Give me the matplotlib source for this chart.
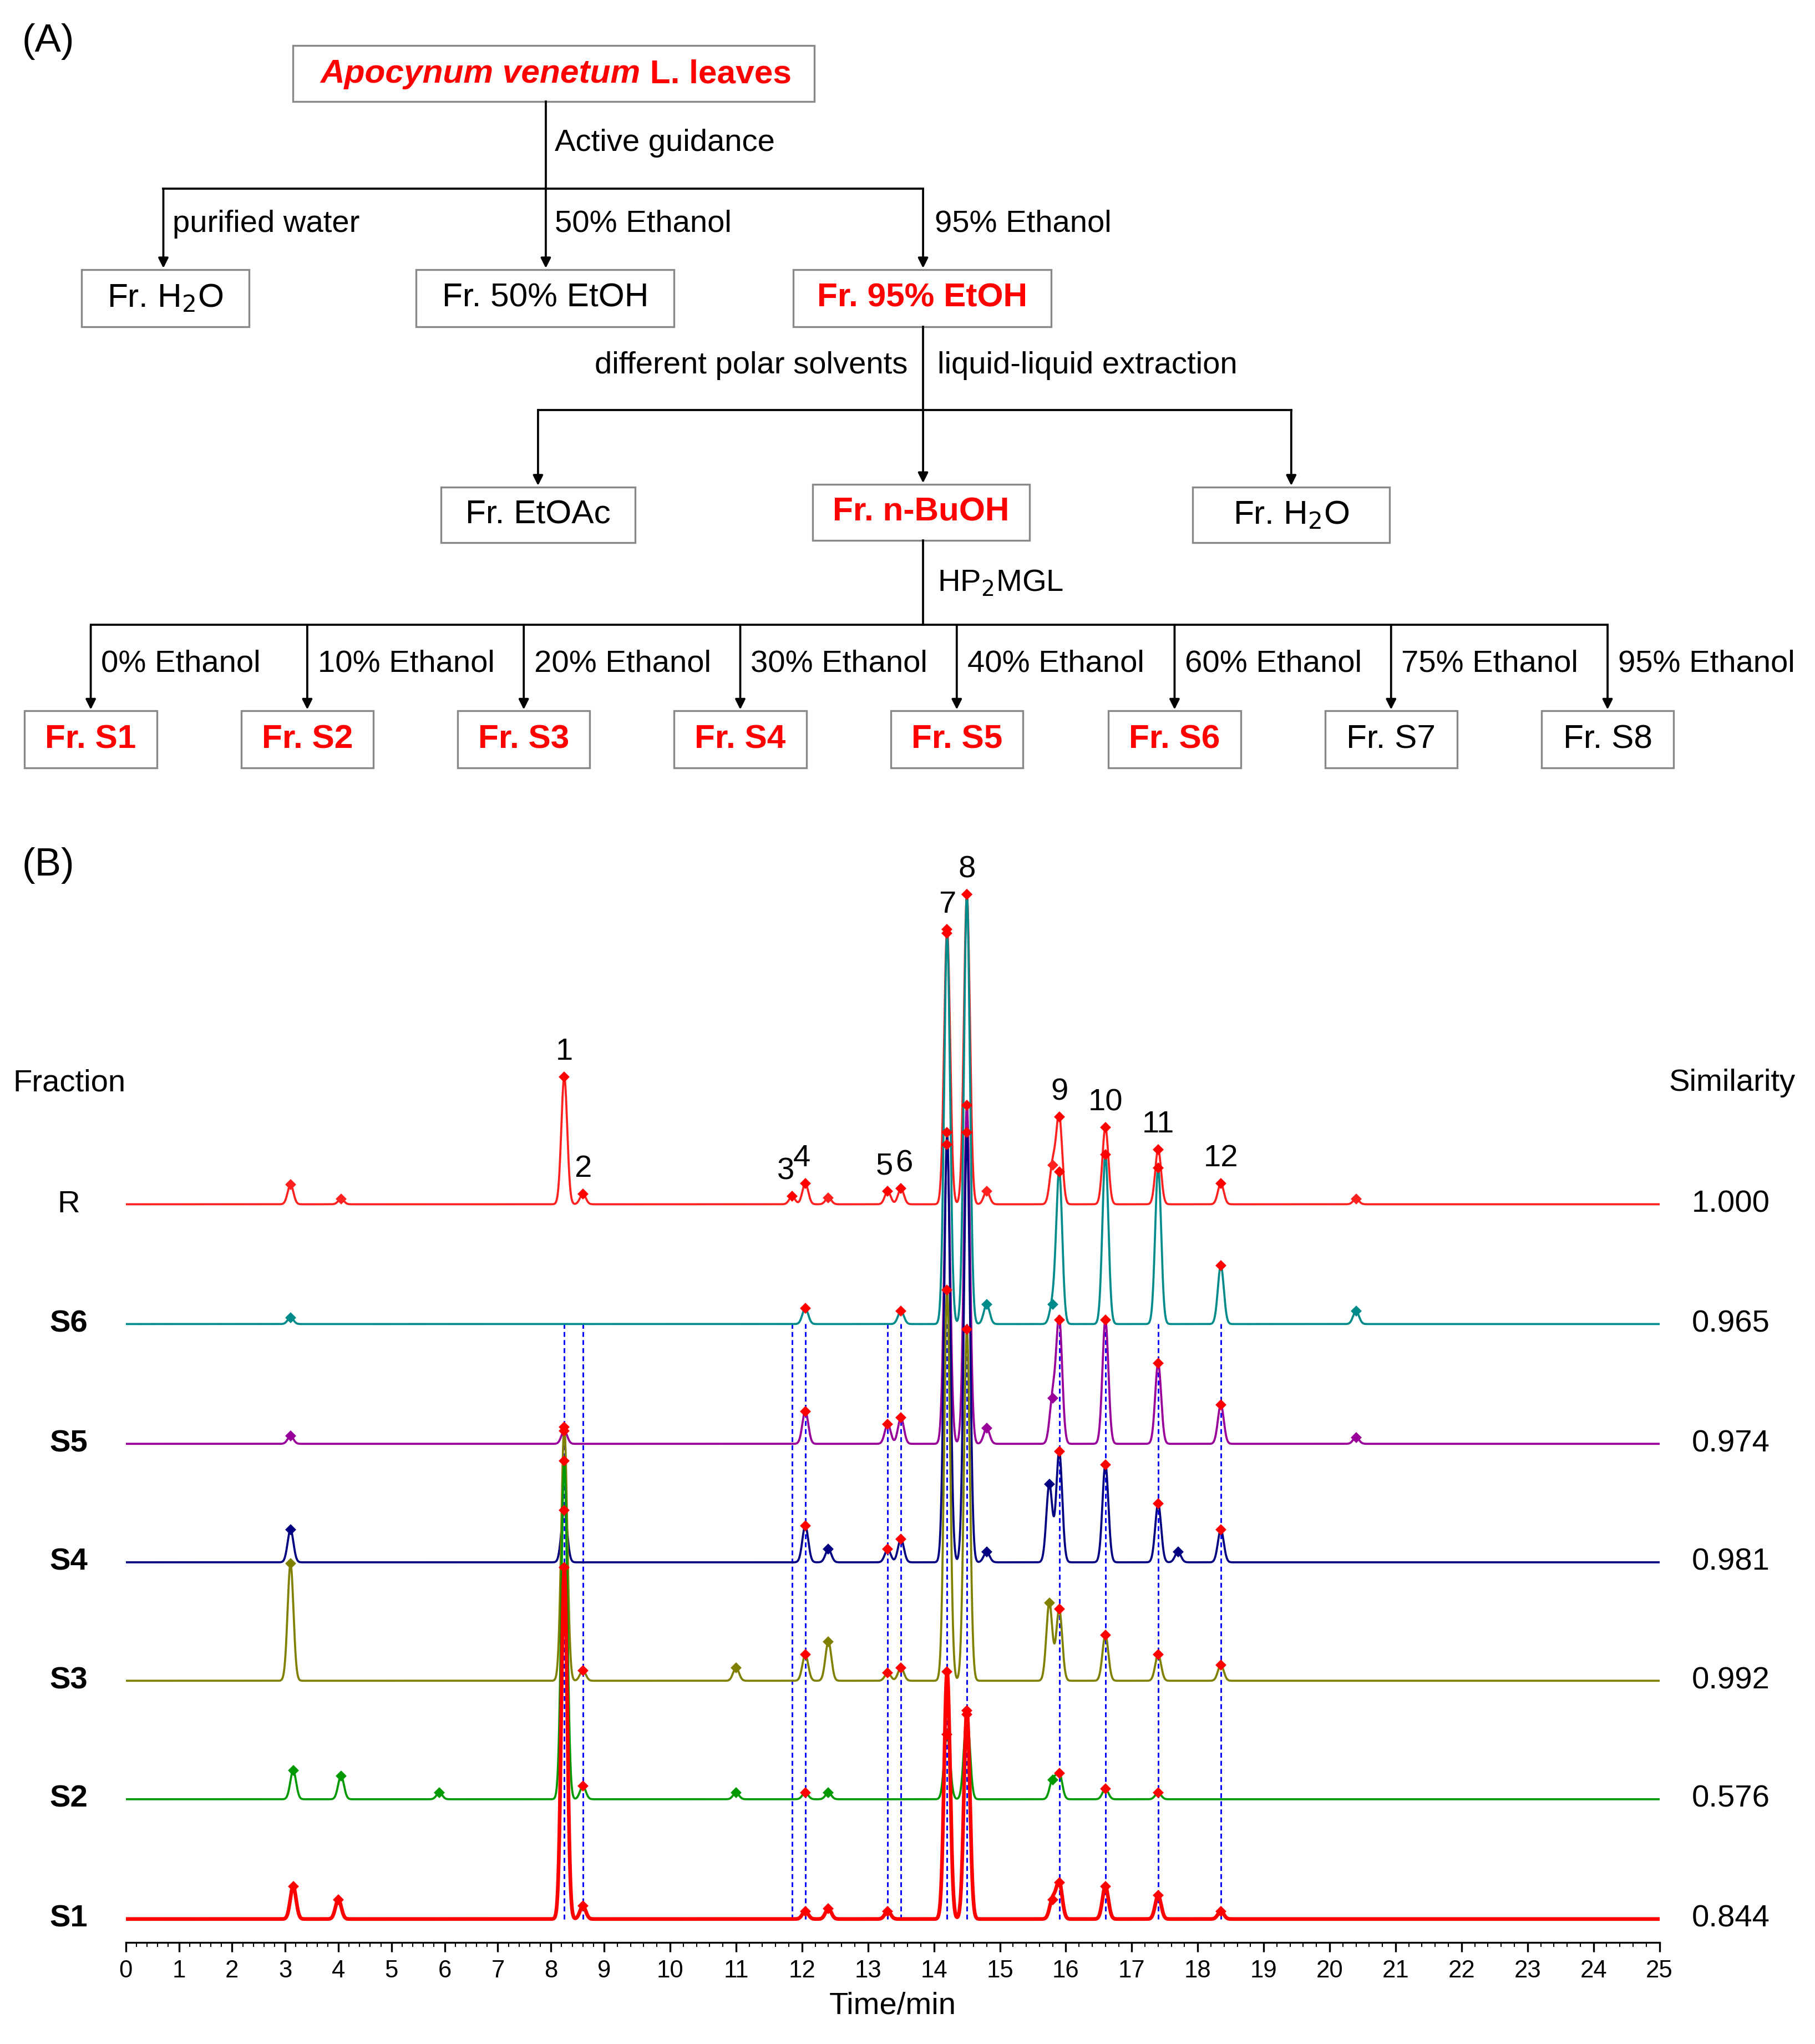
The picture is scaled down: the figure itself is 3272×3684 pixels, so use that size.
import numpy as np
import matplotlib
matplotlib.use("Agg")
import matplotlib.pyplot as plt
from matplotlib.patches import Rectangle

plt.rcParams['font.family'] = ['Arial', 'Liberation Sans', 'DejaVu Sans']

# ---------------- data ----------------
trace_names = ["R", "S6", "S5", "S4", "S3", "S2", "S1"]
similarity = ["1.000", "0.965", "0.974", "0.981", "0.992", "0.576", "0.844"]
trace_colors = ["#FF2020", "#008B8B", "#990099", "#000080", "#808000", "#009900", "#FF0000"]
baselines = [567, 475, 383, 292, 201, 110, 18]

peaks_R = [(3.1, 15), (4.05, 4), (8.25, 98), (8.6, 8), (11.85, 6), (12.05, 16), (12.4, 5),
           (13.3, 10), (13.5, 12), (14.2, 211), (14.5, 238), (14.8, 10), (15.8, 30), (15.9, 67),
           (16.6, 59), (17.4, 42), (18.35, 16), (20.4, 4)]
peaks_S6 = [(3.1, 5), (12.05, 12), (13.5, 10), (14.2, 300), (14.5, 330), (14.8, 15), (15.8, 15),
            (15.9, 117), (16.6, 130), (17.4, 120), (18.35, 45), (20.4, 10)]
peaks_S5 = [(3.1, 6), (8.25, 10), (12.05, 25), (13.3, 15), (13.5, 20), (14.2, 230), (14.5, 260),
            (14.8, 12), (15.8, 35), (15.9, 95), (16.6, 95), (17.4, 62), (18.35, 30), (20.4, 5)]
peaks_S4 = [(3.1, 25), (8.25, 40), (12.05, 28), (12.4, 10), (13.3, 10), (13.5, 18), (14.2, 330),
            (14.5, 330), (14.8, 8), (15.75, 60), (15.9, 85), (16.6, 75), (17.4, 45), (17.7, 8), (18.35, 25)]
peaks_S3 = [(3.1, 90), (8.25, 195), (8.6, 8), (11.0, 10), (12.05, 20), (12.4, 30), (13.3, 6), (13.5, 10),
            (14.2, 300), (14.5, 270), (15.75, 60), (15.9, 55), (16.6, 35), (17.4, 20), (18.35, 12)]
peaks_S2 = [(3.15, 22), (4.05, 18), (5.9, 5), (8.25, 260), (8.6, 10), (11.0, 5), (12.05, 5), (12.4, 5),
            (14.2, 50), (14.5, 65), (15.8, 15), (15.9, 20), (16.6, 8), (17.4, 5)]
peaks_S1 = [(3.15, 25), (4.0, 15), (8.25, 270), (8.6, 10), (12.05, 6), (12.4, 8), (13.3, 6),
            (14.2, 190), (14.5, 160), (15.8, 15), (15.9, 28), (16.6, 25), (17.4, 18), (18.35, 6)]
all_peaks = [peaks_R, peaks_S6, peaks_S5, peaks_S4, peaks_S3, peaks_S2, peaks_S1]

marked_times = [8.25, 8.6, 11.85, 12.05, 13.3, 13.5, 14.2, 14.5, 15.9, 16.6, 17.4, 18.35]
peak_labels = ["1", "2", "3", "4", "5", "6", "7", "8", "9", "10", "11", "12"]
label_offsets = [(0, 8), (0, 8), (-0.1, 8), (-0.05, 8), (-0.05, 8), (0.05, 8), (0, 8), (0, 8),
                 (0, 8), (0, 8), (0, 8), (0, 8)]

# ---------------- figure ----------------
W, H = 1400, 1570
fig = plt.figure(figsize=(3272 / 300, 3684 / 300), dpi=300)
FS = 13.5

BRK, S1_, S2_ = 9.0, 41.0, 50.875
def fwd(v):
    v = np.asarray(v, dtype=float)
    return np.where(v <= BRK, v * S1_, BRK * S1_ + (v - BRK) * S2_)
def inv(p):
    p = np.asarray(p, dtype=float)
    return np.where(p <= BRK * S1_, p / S1_, BRK + (p - BRK * S1_) / S2_)

x0, x1 = 97, 1280
ytop, ybot = 660, 1492
ax = fig.add_axes([x0 / W, 1 - ybot / H, (x1 - x0) / W, (ybot - ytop) / H])
ax.set_xscale("function", functions=(fwd, inv))
t = np.linspace(0, 25, 10000)
for name, col, base, pk in zip(trace_names, trace_colors, baselines, all_peaks):
    y = np.full_like(t, float(base))
    for t0, h in pk:
        sig = 0.055 if t0 < BRK else 0.045
        y += h * np.exp(-(t - t0) ** 2 / (2 * sig ** 2))
    lw = 1.6 if name == "S1" else 0.9
    ax.plot(t, y, color=col, lw=lw, zorder=3)
    for t0, h in pk:
        mc = "red" if t0 in marked_times else col
        ax.plot(t0, base + h, marker="D", ms=2.5, color=mc, zorder=4, clip_on=False)

for tm in marked_times:
    ax.plot([tm, tm], [baselines[-1], baselines[1]], ls=(0, (3, 2)), color="blue", lw=0.7, zorder=2)

for lab, tm, (dx, dy) in zip(peak_labels, marked_times, label_offsets):
    h = dict(peaks_R)[tm]
    ax.text(tm + dx, baselines[0] + h + dy, lab, ha="center", va="bottom", fontsize=FS)

ax.set_xlim(0, 25)
ax.set_ylim(0, ybot - ytop)
for s in ["top", "left", "right"]:
    ax.spines[s].set_visible(False)
ax.set_yticks([])
ax.set_xticks(range(0, 26))
ax.set_xticklabels([str(i) for i in range(26)])
ax.set_xticks(np.arange(0, 25.01, 0.2), minor=True)
ax.xaxis.set_minor_formatter(plt.NullFormatter())
ax.tick_params(axis="x", labelsize=10.5, length=4, width=0.8)
ax.tick_params(axis="x", which="minor", length=2, width=0.5)
ax.set_xlabel("Time/min", fontsize=FS, labelpad=4)

ov = fig.add_axes([0, 0, 1, 1], zorder=5)
ov.set_xlim(0, W)
ov.set_ylim(H, 0)
ov.axis("off")
ov.patch.set_alpha(0)

for name, sim, base in zip(trace_names, similarity, baselines):
    py = ybot - base
    ov.text(53, py, name, ha="center", va="center", fontsize=FS,
            fontweight="normal" if name == "R" else "bold")
    ov.text(1335, py, sim, ha="center", va="center", fontsize=FS)
ov.text(10, 832, "Fraction", ha="left", va="center", fontsize=FS)
ov.text(1385, 832, "Similarity", ha="right", va="center", fontsize=FS)
ov.text(17, 32, "(A)", ha="left", va="center", fontsize=17)
ov.text(17, 665, "(B)", ha="left", va="center", fontsize=17)

def box(l, t_, r, b, text, red=False, fs=14.5):
    ov.add_patch(Rectangle((l, t_), r - l, b - t_, fill=False, ec="#888888", lw=0.8))
    if text is not None:
        ov.text((l + r) / 2, (t_ + b) / 2, text, ha="center", va="center", fontsize=fs,
                color="red" if red else "black", fontweight="bold" if red else "normal")

def arrow(x, y1, y2):
    ov.annotate("", xy=(x, y2), xytext=(x, y1),
                arrowprops=dict(arrowstyle="-|>", color="black", lw=0.9, mutation_scale=9,
                                shrinkA=0, shrinkB=0))

def line(xs, ys):
    ov.plot(xs, ys, color="black", lw=0.9)

box(226, 35, 628, 78, None)
ov.text(494, 57, "Apocynum venetum", ha="right", va="center", fontsize=14.5, color="red",
        fontweight="bold", style="italic")
ov.text(494, 57, " L. leaves", ha="left", va="center", fontsize=14.5, color="red", fontweight="bold")

box(63, 207, 192, 251, "Fr. H$_2$O")
box(321, 207, 520, 251, "Fr. 50% EtOH")
box(612, 207, 811, 251, "Fr. 95% EtOH", red=True)
line([421, 421], [78, 145])
line([126, 712], [145, 145])
for x in [126, 421, 712]:
    arrow(x, 145, 206)
ov.text(428, 110, "Active guidance", ha="left", va="center", fontsize=FS)
ov.text(133, 172, "purified water", ha="left", va="center", fontsize=FS)
ov.text(428, 172, "50% Ethanol", ha="left", va="center", fontsize=FS)
ov.text(721, 172, "95% Ethanol", ha="left", va="center", fontsize=FS)

box(340, 374, 490, 417, "Fr. EtOAc")
box(627, 372, 794, 415, "Fr. n-BuOH", red=True)
box(920, 374, 1072, 417, "Fr. H$_2$O")
line([712, 712], [251, 315])
line([415, 996], [315, 315])
arrow(415, 315, 373)
arrow(712, 315, 371)
arrow(996, 315, 373)
ov.text(700, 281, "different polar solvents", ha="right", va="center", fontsize=FS)
ov.text(723, 281, "liquid-liquid extraction", ha="left", va="center", fontsize=FS)

line([712, 712], [415, 480])
ov.text(723, 448, "HP$_2$MGL", ha="left", va="center", fontsize=FS)
centers = [70, 237, 404, 571, 738, 906, 1073, 1240]
line([70, 1240], [480, 480])
eth = ["0%", "10%", "20%", "30%", "40%", "60%", "75%", "95%"]
for i, (cx, e) in enumerate(zip(centers, eth)):
    arrow(cx, 480, 545)
    ov.text(cx + 8, 510, f"{e} Ethanol", ha="left", va="center", fontsize=FS)
    box(cx - 51, 546, cx + 51, 590, f"Fr. S{i+1}", red=i < 6)

fig.savefig("out.png", dpi=300)
